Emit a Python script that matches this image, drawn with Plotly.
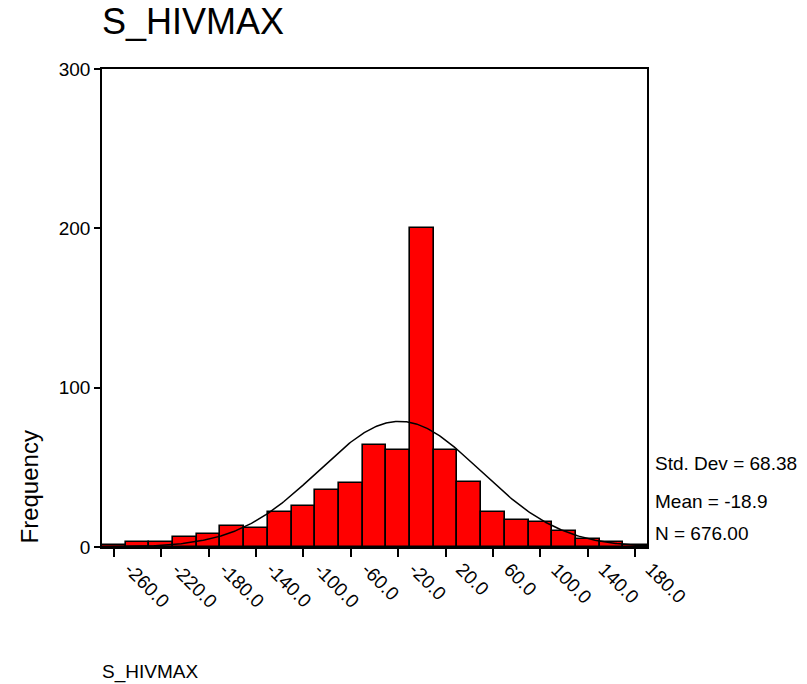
import numpy as np
import plotly.graph_objects as go

# Histogram of S_HIVMAX: bin centres (width 20) and frequencies
bin_centers = [-260, -240, -220, -200, -180, -160, -140, -120, -100, -80, -60, -40,
               -20, 0, 20, 40, 60, 80, 100, 120, 140, 160, 180]
frequencies = [1, 3, 3, 6, 8, 13, 12, 22, 26, 36, 40, 64,
               61, 200, 61, 41, 22, 17, 16, 10, 5, 3, 1]
bin_width = 20

# Summary statistics shown beside the chart
std_dev = 68.38
mean = -18.9
n_cases = 676

x_tick_values = [-260, -220, -180, -140, -100, -60, -20, 20, 60, 100, 140, 180]
x_tick_labels = ["-260.0", "-220.0", "-180.0", "-140.0", "-100.0", "-60.0",
                 "-20.0", "20.0", "60.0", "100.0", "140.0", "180.0"]
y_tick_values = [0, 100, 200, 300]

FONT = "Liberation Sans, Arial, sans-serif"

# Page geometry (pixels)
W, H = 807, 684
L, R, T, B = 102, 160, 69, 137
PW, PH = W - L - R, H - T - B


def px_x(p):
    return (p - L) / PW


def px_y(p):
    return (H - B - p) / PH


# Normal curve scaled to counts
xs = np.linspace(-270, 190, 400)
curve = n_cases * bin_width * np.exp(-0.5 * ((xs - mean) / std_dev) ** 2) / (std_dev * np.sqrt(2 * np.pi))

fig = go.Figure()
fig.add_trace(go.Bar(
    x=bin_centers, y=frequencies, width=bin_width,
    marker=dict(color="#ff0000", line=dict(color="black", width=1.6)),
    showlegend=False, hoverinfo="x+y",
))
fig.add_trace(go.Scatter(
    x=xs, y=curve, mode="lines",
    line=dict(color="black", width=1.5),
    showlegend=False, hoverinfo="skip",
))

fig.update_layout(
    width=W, height=H,
    margin=dict(l=L, r=R, t=T, b=B, pad=0),
    paper_bgcolor="white", plot_bgcolor="white",
    font=dict(family=FONT, size=19, color="black"),
    bargap=0,
    xaxis=dict(
        range=[-270, 190], tickmode="array", tickvals=x_tick_values,
        showticklabels=False,
        ticks="outside", ticklen=8, tickwidth=1.5, tickcolor="black",
        showline=True, linecolor="black", linewidth=1.6, mirror=True,
        showgrid=False, zeroline=False,
    ),
    yaxis=dict(
        range=[0, 300], tickmode="array", tickvals=y_tick_values,
        ticks="outside", ticklen=6, tickwidth=1.5, tickcolor="black",
        showline=True, linecolor="black", linewidth=1.6, mirror=True,
        showgrid=False, zeroline=False,
        tickfont=dict(family=FONT, size=19),
    ),
)

annotations = [
    dict(text="S_HIVMAX", x=px_x(100), y=px_y(22), xanchor="left", yanchor="middle",
         font=dict(family=FONT, size=36)),
    dict(text="S_HIVMAX", x=px_x(100), y=px_y(672), xanchor="left", yanchor="middle",
         font=dict(family=FONT, size=19)),
    dict(text="Frequency", x=px_x(29), y=px_y(546), xanchor="center", yanchor="bottom",
         textangle=-90, font=dict(family=FONT, size=24)),
    dict(text="Std. Dev = 68.38", x=px_x(653), y=px_y(463), xanchor="left", yanchor="middle"),
    dict(text="Mean = -18.9", x=px_x(653), y=px_y(501), xanchor="left", yanchor="middle"),
    dict(text="N = 676.00", x=px_x(653), y=px_y(533), xanchor="left", yanchor="middle"),
]
for a in annotations:
    a.update(xref="paper", yref="paper")

# Slanted x tick labels, hung just below and right of each tick
for v, lab in zip(x_tick_values, x_tick_labels):
    annotations.append(dict(
        text=lab, x=v, xref="x", y=px_y(556), yref="paper",
        xanchor="left", yanchor="top", xshift=4, textangle=45,
        font=dict(family=FONT, size=19),
    ))
for a in annotations:
    a["showarrow"] = False
fig.update_layout(annotations=annotations)

fig.write_html("out.html")
